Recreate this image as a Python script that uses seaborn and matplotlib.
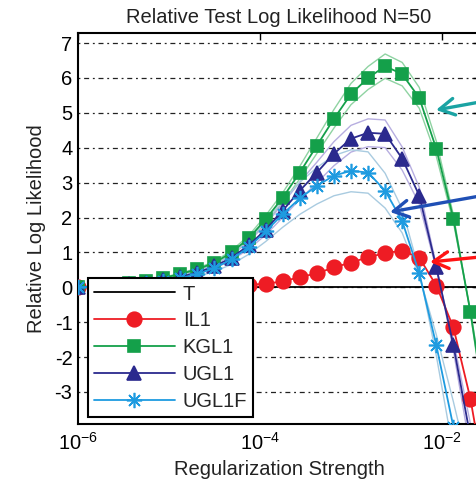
import numpy as np
import pandas as pd
import matplotlib
matplotlib.use("Agg")
import matplotlib.pyplot as plt
from matplotlib.ticker import NullLocator
import seaborn as sns

# ---- data (log10 of regularization strength, 0.1875-decade grid) ----
log_reg = [-6.0, -5.8125, -5.625, -5.4375, -5.25, -5.0625, -4.875, -4.6875,
           -4.5, -4.3125, -4.125, -3.9375, -3.75, -3.5625, -3.375, -3.1875,
           -3.0, -2.8125, -2.625, -2.4375, -2.25, -2.0625, -1.875, -1.6875, -1.5]
t_vals = [0.0] * 25
il1 = [0.0, 0.0, 0.0, 0.0, 0.01, 0.01, 0.02, 0.03, 0.04, 0.05, 0.07, 0.1,
       0.17, 0.29, 0.4, 0.57, 0.71, 0.86, 0.98, 1.05, 0.85, 0.05, -1.15, -3.2, -6.0]
kgl1 = [0.0, 0.03, 0.07, 0.12, 0.18, 0.27, 0.38, 0.52, 0.7, 1.0, 1.4, 1.95,
        2.57, 3.29, 4.06, 4.83, 5.54, 6.0, 6.34, 6.11, 5.43, 3.97, 1.97, -0.71, -3.9]
ugl1 = [0.0, 0.02, 0.04, 0.08, 0.13, 0.2, 0.3, 0.42, 0.6, 0.85, 1.2, 1.65,
        2.2, 2.77, 3.29, 3.83, 4.26, 4.43, 4.4, 3.69, 2.63, 0.57, -1.66, -4.3, -7.0]
ugl1f = [0.0, 0.01, 0.03, 0.07, 0.11, 0.17, 0.26, 0.38, 0.55, 0.8, 1.15, 1.6,
         2.1, 2.55, 2.91, 3.2, 3.34, 3.29, 2.77, 1.9, 0.4, -1.66, -4.0, -6.5, -9.0]
series_names = ["T", "IL1", "KGL1", "UGL1", "UGL1F"]
band_frac = {"KGL1": 0.055, "UGL1": 0.09, "UGL1F": 0.18}

reg = 10 ** np.array(log_reg)
df = pd.DataFrame({
    "reg": np.tile(reg, 5),
    "val": np.concatenate([t_vals, il1, kgl1, ugl1, ugl1f]),
    "series": np.repeat(series_names, len(reg)),
})

colors = {"T": "black", "IL1": "#ee1c24", "KGL1": "#14a04a",
          "UGL1": "#2b2a8e", "UGL1F": "#1e9be0"}
band_colors = {"KGL1": "#8fd3a2", "UGL1": "#b7aee0", "UGL1F": "#a9cbe0"}
markers = {"T": None, "IL1": "o", "KGL1": "s", "UGL1": "^", "UGL1F": (8, 2, 0)}
msizes = {"T": 0, "IL1": 10.5, "KGL1": 9, "UGL1": 10.5, "UGL1F": 11}

sns.set_theme(style="white")
plt.rcParams["font.family"] = ["Liberation Sans", "DejaVu Sans"]
plt.rcParams["mathtext.fontset"] = "custom"
plt.rcParams["mathtext.rm"] = "Liberation Sans"
plt.rcParams["axes.unicode_minus"] = False

fig = plt.figure(figsize=(4.77, 4.87), dpi=100)
ax = fig.add_axes([78 / 477, 63 / 487, (480 - 78) / 477, 391 / 487])
ax.set_xscale("log")

# confidence bands (thin lighter lines)
for name, frac in band_frac.items():
    sub = df[df.series == name]
    for sgn in (1, -1):
        sns.lineplot(x=sub["reg"].values, y=sub["val"].values * (1 + sgn * frac),
                     color=band_colors[name], lw=1.0, ax=ax, legend=False,
                     estimator=None, zorder=2)

for name in series_names:
    sub = df[df.series == name]
    kw = dict(color=colors[name], lw=1.3, ax=ax, estimator=None, label=name,
              zorder=3)
    if markers[name] is not None:
        kw.update(marker=markers[name], markersize=msizes[name],
                  markeredgecolor=colors[name], markerfacecolor=colors[name],
                  markeredgewidth=1.2)
    sns.lineplot(x=sub["reg"].values, y=sub["val"].values, **kw)

ax.set_xlim(1e-6, 10 ** (-6 + (480 - 78) / 91))
ax.set_ylim(-3.92, 7.29)
ax.set_xticks([1e-6, 1e-4, 1e-2])
ax.set_xticklabels([r"$\mathregular{10^{-6}}$", r"$\mathregular{10^{-4}}$",
                    r"$\mathregular{10^{-2}}$"])
ax.xaxis.set_minor_locator(NullLocator())
ax.set_yticks(list(range(-3, 8)))
ax.tick_params(direction="in", top=True, right=True, length=5, width=1,
               labelsize=14.5, pad=4, colors="black")
ax.tick_params(axis="x", pad=6)
for sp in ax.spines.values():
    sp.set_color("black")
    sp.set_linewidth(1.5)

ax.set_axisbelow(True)
ax.yaxis.grid(True, linestyle=(0, (1.5, 3, 4, 3)), color="#222222", lw=0.9)
ax.xaxis.grid(False)

ax.set_title("Relative Test Log Likelihood N=50", fontsize=14.5, pad=7,
             color="#222222")
ax.set_xlabel("Regularization Strength", fontsize=14.5, labelpad=4,
              color="#222222")
ax.set_ylabel("Relative Log Likelihood", fontsize=14.5, labelpad=6,
              color="#222222")

h, l = ax.get_legend_handles_labels()
order = [l.index(n) for n in series_names]
leg = ax.legend([h[i] for i in order], [l[i] for i in order],
                loc="lower left", bbox_to_anchor=(0.025, 0.018),
                borderaxespad=0, frameon=True, fancybox=False, framealpha=1,
                edgecolor="black", handlelength=4, handletextpad=0.4,
                labelspacing=0.39, fontsize=14.5, borderpad=0.3)
leg.get_frame().set_linewidth(1.5)
leg.set_zorder(10)

# hand-drawn annotation arrows (figure pixel coordinates)
H = 487
arrows = [((436, 110), (480, 102), "#1aa3a3"),
          ((390, 212), (480, 196), "#1f4fb5"),
          ((430, 262), (480, 257), "#ff1414")]
for tip, start, col in arrows:
    ax.annotate("", xy=(tip[0], H - tip[1]), xycoords="figure pixels",
                xytext=(start[0], H - start[1]), textcoords="figure pixels",
                arrowprops=dict(arrowstyle="->,head_length=0.9,head_width=0.5",
                                lw=2.4, color=col, shrinkA=0, shrinkB=0),
                annotation_clip=False, zorder=20)

fig.savefig("out.png", dpi=100)
